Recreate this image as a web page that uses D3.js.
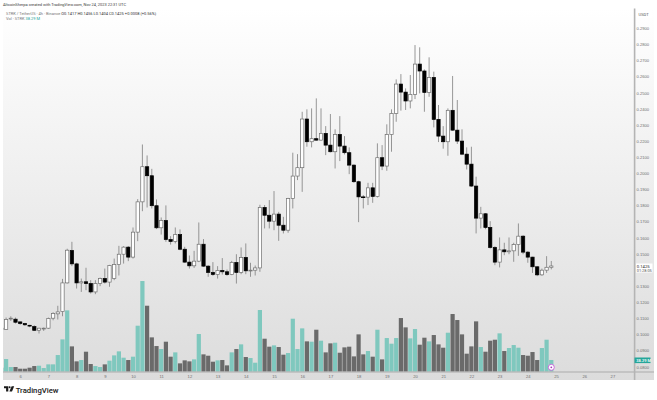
<!DOCTYPE html>
<html><head><meta charset="utf-8">
<script src="https://cdn.jsdelivr.net/npm/d3@7/dist/d3.min.js"></script>
<style>html,body{margin:0;padding:0;background:#fff}svg{display:block;font-family:Roboto,"Open Sans",sans-serif}</style>
</head><body><svg id="c" width="657" height="400"></svg>
<script>
const openPrice=[.1031,
.1031,.1097,.1095,.1078,.1068,.1057,.1049,.1026,.1037,.1039,
.1101,.1128,.1142,.1320,.1521,.1438,.1320,.1327,.1316,.1264,
.1316,.1347,.1325,.1347,.1434,.1498,.1542,.1480,.1635,.1823,
.2041,.1985,.1799,.1662,.1707,.1589,.1577,.1620,.1529,.1449,
.1426,.1455,.1560,.1424,.1385,.1372,.1397,.1389,.1372,.1447,
.1385,.1478,.1395,.1399,.1413,.1788,.1740,.1703,.1747,.1678,
.1647,.1844,.1983,.2035,.2337,.2196,.2215,.2206,.2248,.2175,
.2134,.2241,.2169,.2128,.2051,.1948,.1854,.1852,.1910,.1857,
.2097,.2045,.2241,.2372,.2554,.2504,.2449,.2490,.2678,.2635,
.2502,.2595,.2335,.2231,.2196,.2391,.2268,.2200,.2119,.2057,
.1921,.1722,.1749,.1664,.1540,.1449,.1525,.1513,.1519,.1558,
.1610,.1511,.1480,.1420,.1370,.1399,.1417];
const highPrice=[.1041,
.1105,.1113,.1105,.1080,.1072,.1060,.1057,.1041,.1043,.1105,
.1138,.1178,.1345,.1532,.1575,.1445,.1347,.1414,.1337,.1337,
.1353,.1409,.1432,.1471,.1550,.1548,.1548,.1664,.1840,.2179,
.2111,.2028,.1838,.1726,.1801,.1610,.1664,.1652,.1544,.1490,
.1519,.1695,.1592,.1430,.1449,.1424,.1474,.1403,.1457,.1498,
.1540,.1565,.1445,.1428,.1805,.1803,.1834,.1890,.1761,.1730,
.1848,.2128,.2119,.2382,.2397,.2403,.2465,.2403,.2293,.2368,
.2273,.2355,.2231,.2161,.2055,.1954,.1865,.1941,.1941,.2186,
.2175,.2304,.2397,.2583,.2616,.2527,.2610,.2796,.2782,.2645,
.2720,.2631,.2424,.2293,.2403,.2604,.2455,.2273,.2161,.2165,
.1979,.1792,.1753,.1703,.1548,.1602,.1569,.1602,.1569,.1689,
.1616,.1517,.1482,.1424,.1409,.1486,.1456];
const lowPrice=[.1029,
.1030,.1084,.1068,.1060,.1053,.1045,.1022,.1006,.1022,.1035,
.1088,.1093,.1113,.1316,.1424,.1285,.1264,.1275,.1254,.1250,
.1300,.1316,.1296,.1337,.1366,.1440,.1455,.1471,.1579,.1765,
.1788,.1782,.1654,.1620,.1575,.1558,.1565,.1523,.1445,.1409,
.1413,.1449,.1420,.1358,.1364,.1347,.1372,.1364,.1368,.1316,
.1374,.1374,.1358,.1366,.1389,.1658,.1658,.1647,.1581,.1627,
.1631,.1782,.1958,.1885,.2165,.2161,.2202,.2203,.2113,.2130,
.2030,.2076,.2117,.1995,.1941,.1697,.1782,.1803,.1817,.1850,
.2020,.2016,.2134,.2320,.2389,.2393,.2403,.2461,.2496,.2382,
.2475,.2285,.2194,.2153,.2109,.2264,.2182,.2113,.2024,.1916,
.1627,.1658,.1653,.1533,.1430,.1416,.1492,.1498,.1451,.1488,
.1498,.1445,.1382,.1362,.1364,.1382,.1404];
const closePrice=[.1039,
.1093,.1101,.1076,.1068,.1060,.1053,.1026,.1039,.1039,.1099,
.1130,.1140,.1320,.1523,.1438,.1320,.1327,.1316,.1264,.1316,
.1347,.1325,.1428,.1434,.1498,.1542,.1480,.1635,.1823,.2041,
.1985,.1799,.1662,.1707,.1589,.1577,.1620,.1529,.1449,.1426,
.1455,.1560,.1424,.1385,.1372,.1397,.1389,.1372,.1447,.1385,
.1478,.1395,.1399,.1413,.1788,.1740,.1703,.1747,.1678,.1647,
.1844,.1983,.2035,.2337,.2196,.2215,.2206,.2248,.2175,.2134,
.2241,.2169,.2128,.2051,.1948,.1854,.1852,.1910,.1857,.2097,
.2045,.2241,.2372,.2554,.2504,.2449,.2490,.2678,.2635,.2502,
.2595,.2335,.2231,.2196,.2391,.2268,.2200,.2119,.2057,.1921,
.1722,.1749,.1664,.1540,.1449,.1525,.1513,.1519,.1558,.1610,
.1511,.1480,.1420,.1370,.1399,.1417,.1425];
const volumeM=[13.1,
41.4,15.3,15.3,9.8,9.8,13.1,18.5,19.6,12.0,24.0,
24.0,54.5,105.7,200.6,82.8,33.8,38.2,65.4,25.1,18.5,
15.3,24.0,36.0,53.4,66.5,45.8,38.2,49.1,150.4,296.5,
215.8,112.3,83.9,74.1,98.1,49.1,63.2,27.3,37.1,33.8,
40.3,123.2,56.7,52.3,32.7,37.1,38.2,20.7,63.2,74.1,
89.4,48.0,44.7,29.4,201.7,107.9,81.8,86.1,80.7,55.6,
61.0,173.3,74.1,141.7,99.2,98.1,137.3,101.4,63.2,92.7,
94.8,62.1,79.6,81.8,50.1,122.1,56.7,67.6,49.1,137.3,
40.3,110.1,91.6,110.1,175.5,145.0,109.0,139.5,88.3,111.2,
99.2,119.9,89.4,78.5,127.5,188.6,169.0,122.1,58.9,82.8,
164.6,80.7,65.4,101.4,104.6,125.4,67.6,77.4,87.2,78.5,
54.5,52.3,64.3,38.2,77.4,104.6,38.29];
const dayLabels=[6,7,8,9,10,11,12,13,14,15,16,17,18,19,20,21,22,23,24,25,26,27];
const priceTicks=[.29,.28,.27,.26,.25,.24,.23,.22,.21,.20,.19,.18,.17,.16,.15,.13,.12,.11,.10,.09,.08];
const titleText="AltcoinSherpa created with TradingView.com, Nov 24, 2023 22:31 UTC";
const legendName="STRK / TetherUS · 4h · Binance";
const legendValues="O0.1417  H0.1456  L0.1404  C0.1425  +0.0008 (+0.56%)";

const svg=d3.select("#c");
const L=3,R=634,T=8.5,B=380,BASE=371.7;
const defs=svg.append("defs");
const g=defs.append("linearGradient").attr("id","bg").attr("x1",0).attr("x2",0).attr("y1",0).attr("y2",1);
g.append("stop").attr("offset","0").attr("stop-color","#ffffff");
g.append("stop").attr("offset","1").attr("stop-color","#dcdcdc");
defs.append("clipPath").attr("id","plot").append("rect").attr("x",L).attr("y",T).attr("width",R-L).attr("height",BASE-T);
defs.append("filter").attr("id","soft").attr("x","-5%").attr("y","-5%").attr("width","110%").attr("height","110%")
  .append("feGaussianBlur").attr("stdDeviation",0.3);
svg.append("rect").attr("x",L).attr("y",T).attr("width",654-L).attr("height",B-T).attr("fill","url(#bg)");

const x=d3.scaleLinear().domain([0,117]).range([1.4,551.3]);
const y=d3.scaleLinear().domain([.08,.29]).range([366.7,28.3]);
const v=d3.scaleLinear().domain([0,327]).range([BASE,271.7]);
const idx=d3.range(openPrice.length);
const up=i=>closePrice[i]>=openPrice[i];
const bw=3.3;

const plot=svg.append("g").attr("clip-path","url(#plot)").append("g").attr("filter","url(#soft)");
plot.append("g").selectAll("rect").data(idx).join("rect")
  .attr("x",i=>x(i)-2.1).attr("width",4.2)
  .attr("y",i=>v(volumeM[i])).attr("height",i=>BASE-v(volumeM[i]))
  .attr("fill",i=>up(i)?"#7fc8be":"#6a6a6a");
plot.append("g").selectAll("line").data(idx).join("line")
  .attr("x1",i=>x(i)).attr("x2",i=>x(i))
  .attr("y1",i=>y(highPrice[i])).attr("y2",i=>y(lowPrice[i]))
  .attr("stroke","#7d7d7d").attr("stroke-width",0.8);
plot.append("g").selectAll("rect").data(idx).join("rect")
  .attr("x",i=>x(i)-bw/2).attr("width",bw)
  .attr("y",i=>y(Math.max(openPrice[i],closePrice[i])))
  .attr("height",i=>Math.max(0.8,Math.abs(y(openPrice[i])-y(closePrice[i]))))
  .attr("fill",i=>up(i)?"#ffffff":"#000000")
  .attr("stroke",i=>up(i)?"#6e6e6e":"#000000").attr("stroke-width",0.7);

// axes
const tickSel=s=>s.selectAll("text").attr("fill","#6f6f6f").attr("font-size",4.1);
const bottom=d3.axisBottom(d3.scaleLinear().domain(x.domain()).range(x.range()))
  .tickValues(dayLabels.map((d,i)=>4+6*i)).tickFormat((d,i)=>dayLabels[i]).tickSize(0).tickPadding(0);
const ax=svg.append("g").attr("transform",`translate(0,${BASE+3.4})`).call(bottom);
ax.select(".domain").remove(); tickSel(ax);
const right=d3.axisRight(y).tickValues(priceTicks).tickFormat(d3.format(".4f")).tickSize(0).tickPadding(0);
const ay=svg.append("g").attr("transform","translate(636.5,0)").call(right);
ay.select(".domain").remove(); tickSel(ay);

svg.append("line").attr("x1",L).attr("x2",654).attr("y1",BASE+.3).attr("y2",BASE+.3).attr("stroke","#a6a6a6").attr("stroke-width",.9);
svg.append("rect").attr("x",R-.2).attr("y",T).attr("width",1.6).attr("height",B-T).attr("fill","#b4b4b4");

// right side labels
svg.append("rect").attr("x",637).attr("y",10).attr("width",15).attr("height",8).attr("fill","#fff");
svg.append("text").attr("x",638.5).attr("y",15.8).attr("font-size",4.1).attr("fill","#555").text("USDT");
svg.append("rect").attr("x",636).attr("y",263.5).attr("width",16.5).attr("height",9).attr("fill","#fff");
svg.append("text").attr("x",636.8).attr("y",267.6).attr("font-size",4.2).attr("fill","#222").text(d3.format(".4f")(closePrice[closePrice.length-1]));
svg.append("text").attr("x",636.8).attr("y",271.8).attr("font-size",3.9).attr("fill","#555").text("01:28:05");
svg.append("rect").attr("x",634.5).attr("y",357.5).attr("width",16).attr("height",5.6).attr("fill","#26a69a");
svg.append("text").attr("x",636.3).attr("y",361.8).attr("font-size",4).attr("font-weight",500).attr("fill","#fff").text(volumeM[volumeM.length-1]+" M");

// marker
const mx=x(117),my=367.3;
svg.append("circle").attr("cx",mx).attr("cy",my).attr("r",3).attr("fill","#fff").attr("stroke","#c65ddb").attr("stroke-width",.9);
svg.append("circle").attr("cx",mx).attr("cy",my).attr("r",.9).attr("fill","#a23bb8");

// header
svg.append("text").attr("x",3).attr("y",6.1).attr("font-size",3.97).attr("fill","#3a3a3a").text(titleText);
const leg=svg.append("text").attr("x",6).attr("y",14.7).attr("font-size",4);
leg.append("tspan").attr("fill","#777").text(legendName+"  ");
leg.append("tspan").attr("fill","#333").text(legendValues);
const leg2=svg.append("text").attr("x",6).attr("y",20.4).attr("font-size",4);
leg2.append("tspan").attr("fill","#777").text("Vol · STRK  ");
leg2.append("tspan").attr("fill","#26a69a").text(volumeM[volumeM.length-1]+" M");

// footer logo
const logo=svg.append("g").attr("transform","translate(4,386.2)").attr("fill","#1a1a1a");
logo.append("path").attr("d","M0 0H4.3V5.2H2.1V2.1H0Z");
logo.append("circle").attr("cx",5.6).attr("cy",1).attr("r",1);
logo.append("path").attr("d","M7.6 0H10.2L8 5.2H5.4Z");
svg.append("text").attr("x",15.7).attr("y",392.8).attr("font-size",7.7).attr("font-weight",500).attr("fill","#1a1a1a").text("TradingView");
</script></body></html>
